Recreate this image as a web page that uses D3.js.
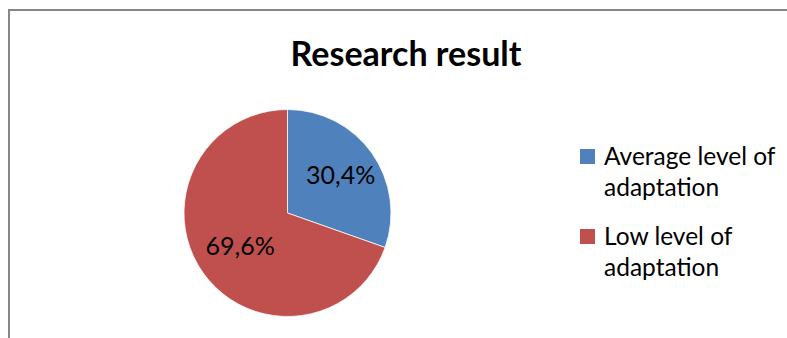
<!DOCTYPE html>
<html>
<head>
<meta charset="utf-8">
<script src="https://cdn.jsdelivr.net/npm/d3@7"></script>
<style>
  body { margin: 0; background: #fff; }
  svg text { font-family: Lato, "Open Sans", sans-serif; fill: #000; }
</style>
</head>
<body>
<svg id="chart" width="787" height="338"></svg>
<script>
// data
const categories = ["Average level of adaptation", "Low level of adaptation"];
const legendLines = [["Average level of", "adaptation"], ["Low level of", "adaptation"]];
const values = [30.4, 69.6];
const valueLabels = ["30,4%", "69,6%"];
const colors = ["#4F81BD", "#C0504D"];
const title = "Research result";

const svg = d3.select("#chart");

// chart area frame (runs off the right and bottom of the picture)
svg.append("rect")
    .attr("x", 9).attr("y", 10)
    .attr("width", 900).attr("height", 500)
    .attr("fill", "#fff")
    .attr("stroke", "#868686").attr("stroke-width", 2);

svg.append("text")
    .attr("x", 406).attr("y", 66)
    .attr("text-anchor", "middle")
    .style("font-size", "34px").style("font-weight", "bold")
    .text(title);

/* ---------- pie ---------- */
const cx = 287.5, cy = 213, r = 103.5;
const g = svg.append("g").attr("transform", `translate(${cx},${cy})`);

const pie = d3.pie().sort(null).value(d => d);
const arcs = pie(values);
const arc = d3.arc().innerRadius(0).outerRadius(r);
// excel's best-fit labels sit at slightly different depths per slice
const labelDepth = [0.63, 0.56];
const labelPos = (d, i) => d3.arc().innerRadius(r * labelDepth[i]).outerRadius(r * labelDepth[i]).centroid(d);

g.selectAll("path.slice").data(arcs)
    .join("path")
    .attr("class", "slice")
    .attr("d", arc)
    .attr("fill", (d, i) => colors[i])
    .attr("stroke", "#fff").attr("stroke-width", 0.75);

g.selectAll("text.lbl").data(arcs)
    .join("text")
    .attr("class", "lbl")
    .attr("x", (d, i) => labelPos(d, i)[0])
    .attr("y", (d, i) => labelPos(d, i)[1] + 9)
    .attr("text-anchor", "middle")
    .style("font-size", "25px")
    .text((d, i) => valueLabels[i]);

/* ---------- legend ---------- */
const legend = svg.append("g").attr("transform", "translate(580,149)");
const item = legend.selectAll("g").data(categories)
    .join("g")
    .attr("transform", (d, i) => `translate(0,${i * 80})`);

item.append("rect")
    .attr("width", 15).attr("height", 15)
    .attr("fill", (d, i) => colors[i]);

item.append("text")
    .attr("x", 24).attr("y", 16)
    .style("font-size", "24.5px")
    .selectAll("tspan").data((d, i) => legendLines[i])
    .join("tspan")
    .attr("x", 24)
    .attr("dy", (d, j) => j ? 31 : 0)
    .text(d => d);
</script>
</body>
</html>
